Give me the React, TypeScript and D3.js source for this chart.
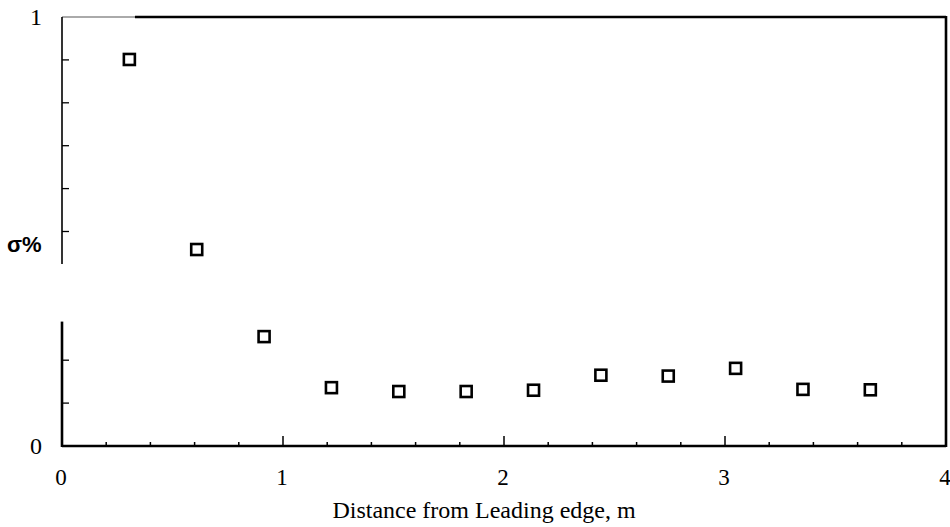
import React from "react";
import * as d3 from "d3";

const distances = [0.3048, 0.6096, 0.9144, 1.2192, 1.524, 1.8288, 2.1336, 2.4384, 2.7432, 3.048, 3.3528, 3.6576];
const sigmaValues = [0.901, 0.458, 0.255, 0.136, 0.127, 0.127, 0.130, 0.165, 0.163, 0.181, 0.132, 0.131];
const xTickLabels = [0, 1, 2, 3, 4];
const xMinorTicks = d3.range(1, 20).map((i) => i * 0.2);
const yTicks = [0.1, 0.2, 0.5, 0.6, 0.7, 0.8, 0.9];
const yTickLabels = [0, 1];
const axisBreak = [0.29, 0.424];

const W = 950;
const H = 527;

export default function App() {
  const x = d3.scaleLinear().domain([0, 4]).range([62, 946]);
  const y = d3.scaleLinear().domain([0, 1]).range([446, 17]);
  const serif = "'Liberation Serif', 'DejaVu Serif', serif";
  const sans = "'Liberation Sans', Arial, sans-serif";
  const sq = 11;

  return (
    <svg
      width={W}
      height={H}
      style={{ position: "absolute", left: 0, top: 0, background: "#fff" }}
    >
      {/* frame: top, right */}
      <line x1={x(0)} x2={x(0.33)} y1={y(1)} y2={y(1)} stroke="#aaa" strokeWidth={2} />
      <line x1={x(0.33)} x2={x(4)} y1={y(1)} y2={y(1)} stroke="#000" strokeWidth={2.4} />
      <line x1={x(4)} x2={x(4)} y1={y(1) - 1} y2={y(0) + 1} stroke="#000" strokeWidth={2.6} />
      {/* bottom axis */}
      <line x1={x(0)} x2={x(4)} y1={y(0)} y2={y(0)} stroke="#000" strokeWidth={2.4} />
      {xMinorTicks.map((t) => {
        const major = Math.abs(t - Math.round(t)) < 1e-6;
        return (
          <line
            key={"xt" + t}
            x1={x(t)}
            x2={x(t)}
            y1={y(0)}
            y2={y(0) - (major ? 10 : 4)}
            stroke="#000"
            strokeWidth={1.5}
          />
        );
      })}
      {/* left axis with break */}
      <line x1={x(0)} x2={x(0)} y1={y(1)} y2={y(axisBreak[1])} stroke="#000" strokeWidth={1.6} />
      <line x1={x(0)} x2={x(0)} y1={y(axisBreak[0])} y2={y(0) + 1} stroke="#000" strokeWidth={2.6} />
      {yTicks.map((t) => (
        <line
          key={"yt" + t}
          x1={x(0)}
          x2={x(0) + 7}
          y1={y(t)}
          y2={y(t)}
          stroke="#000"
          strokeWidth={1.3}
        />
      ))}
      {/* y labels */}
      {yTickLabels.map((t) => (
        <text
          key={"yl" + t}
          x={42}
          y={y(t)}
          textAnchor="end"
          dominantBaseline="central"
          fontFamily={serif}
          fontSize={24}
          fill="#000"
        >
          {t}
        </text>
      ))}
      <text x={7} y={252} fontFamily={sans} fontWeight="bold" fontSize={22} fill="#000">
        σ%
      </text>
      {/* x labels */}
      {xTickLabels.map((t) => (
        <text
          key={"xl" + t}
          x={x(t) - 1}
          y={485}
          textAnchor="middle"
          fontFamily={serif}
          fontSize={23}
          fill="#000"
        >
          {t}
        </text>
      ))}
      <text
        x={484}
        y={518}
        textAnchor="middle"
        fontFamily={serif}
        fontSize={24}
        fill="#000"
      >
        Distance from Leading edge, m
      </text>
      {/* data points */}
      {distances.map((d, i) => (
        <rect
          key={"p" + i}
          x={x(d) - sq / 2}
          y={y(sigmaValues[i]) - sq / 2}
          width={sq}
          height={sq}
          fill="#fff"
          stroke="#000"
          strokeWidth={2.6}
        />
      ))}
    </svg>
  );
}
